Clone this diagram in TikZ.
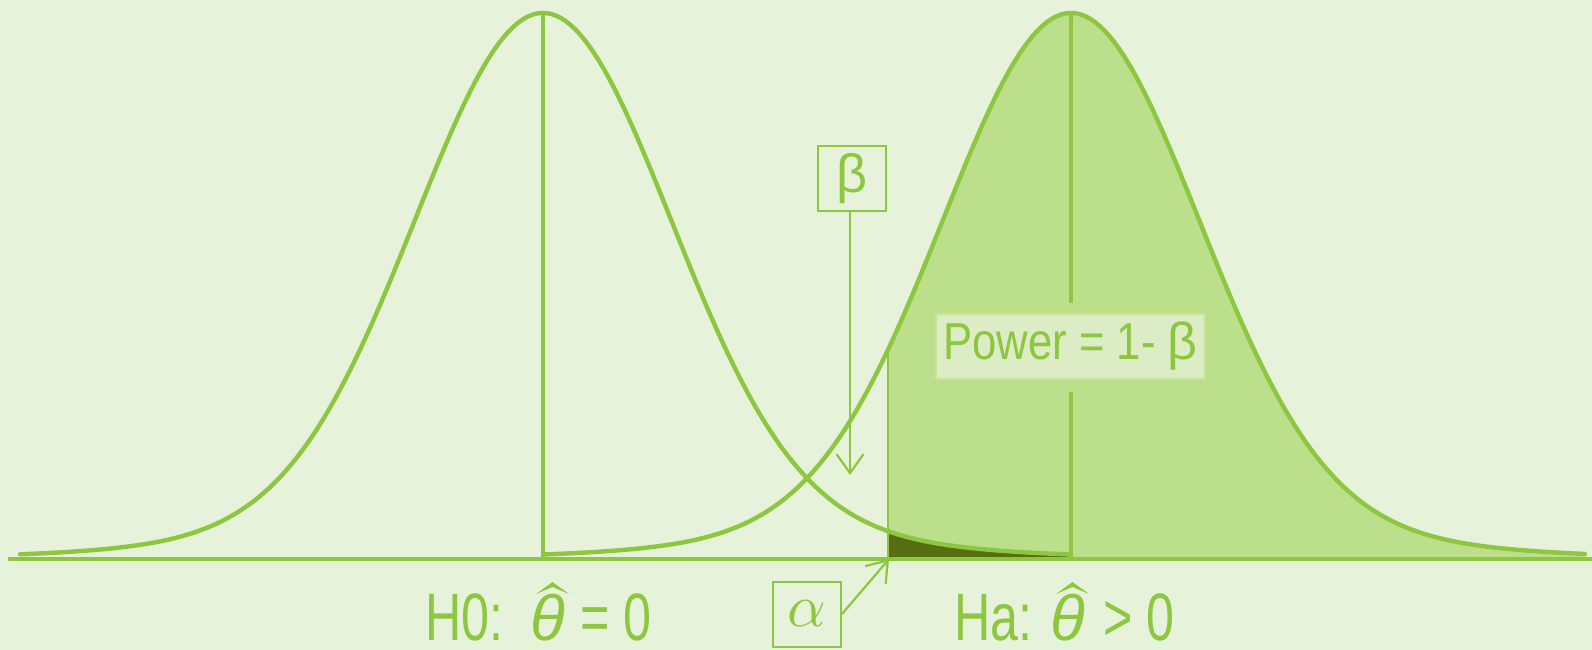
\documentclass[tikz,border=0pt]{standalone}
\usepackage{graphicx}
\usepackage{fontspec}
\newfontfamily\cond[FakeStretch=0.75]{Liberation Sans}
\newfontfamily\condp[FakeStretch=0.84]{Liberation Sans}
\newfontfamily\grk{Liberation Sans}
\usetikzlibrary{arrows.meta,calc}
\definecolor{bg}{HTML}{E6F3DA}
\definecolor{grn}{HTML}{8DC63F}
\definecolor{pfill}{HTML}{BBDF8B}
\definecolor{boxfill}{HTML}{DCECC4}
\definecolor{boxline}{HTML}{C6E39C}
\definecolor{darkg}{HTML}{566D12}
\begin{document}
\begin{tikzpicture}[x=1pt,y=-1pt,
  declare function={
    hl(\t)=559-546*(0.93*exp(-0.5*((\t-543)/127)^2)+0.07*exp(-0.5*((\t-543)/254)^2));
    hr(\t)=559-546*(0.93*exp(-0.5*((\t-1071)/127)^2)+0.07*exp(-0.5*((\t-1071)/254)^2));
  },
  curve/.style={draw=grn,line width=4.4pt,line join=round,line cap=round},
  vline/.style={draw=grn,line width=3.5pt},
  lbox/.style={draw=grn,line width=2pt,inner sep=0pt,minimum width=68pt,minimum height=65pt,text=grn},
  pointer/.style={draw=grn,line width=2.2pt,-{Straight Barb[length=19pt,width=27pt,line width=2.2pt]}},
  lbl/.style={text=grn,inner sep=0pt,text depth=0pt,font=\cond\fontsize{67}{67}\selectfont},
  hatfill/.style={fill=grn}]
\fill[bg] (0,0) rectangle (1592,650);
\useasboundingbox (0,0) rectangle (1592,650);
% key coordinates
\coordinate (peakL) at (543,13);
\coordinate (baseL) at (543,559);
\coordinate (peakR) at (1071,13);
\coordinate (baseR) at (1071,559);
\coordinate (axL) at (8,559);
\coordinate (axR) at (1592,559);
\coordinate (critB) at (888,559);
\coordinate (critT) at (888,{hr(888)});
% power area
\fill[pfill] (critB) -- plot[domain=888:1585,samples=160] (\x,{hr(\x)}) -- (1585,559) -- cycle;
% alpha area
\fill[darkg] (critB) -- plot[domain=888:1068,samples=60] (\x,{hl(\x)}) -- (1068,559) -- cycle;
\draw[grn,line width=2pt] (critB) -- (critT);
% curves
\draw[curve] plot[domain=20:1068,samples=220] (\x,{hl(\x)});
\draw[curve] plot[domain=543:1585,samples=220] (\x,{hr(\x)});
% power box
\node[draw=boxline,fill=boxfill,line width=2.5pt,minimum width=269pt,minimum height=65pt,inner sep=0pt,text=grn] (power) at (1070.5,346.5)
  {\condp\fontsize{52}{52}\selectfont Power = 1- {\grk β}};
% vertical lines
\draw[vline] (peakL) -- (baseL);
\draw[vline] (peakR) -- ([yshift=10pt]power.north -| peakR);
\draw[vline] ([yshift=-12pt]power.south -| peakR) -- (baseR);
% axis
\draw[grn,line width=3.5pt] (axL) -- (axR);
% beta
\node[lbox] (beta) at (852,178.5) {\grk\fontsize{54}{54}\selectfont β};
\coordinate (betatip) at (850,475);
\draw[pointer] (beta.south -| betatip) -- (betatip);
% alpha
\node[lbox] (alpha) at (807,614) {\scalebox{6}{$\alpha$}};
\coordinate (alphatip) at (889,559);
\draw[pointer] (alpha.east) -- (alphatip);
% hypotheses
\node[lbl,anchor=base west] (h0) at (425,640) {H0:};
\node[lbl,anchor=base] (th0) at (548,640) {\grk\fontsize{64}{64}\selectfont\itshape θ};
\node[lbl,anchor=base west] (eq0) at (580,640) {= 0};
\fill[hatfill] ($(th0.base)+(-12,-46)$) -- ($(th0.base)+(4.5,-58)$) -- ($(th0.base)+(21,-46)$)
  -- ($(th0.base)+(4.5,-53)$) -- cycle;
\node[lbl,anchor=base west] (ha) at (954,640) {Ha:};
\node[lbl,anchor=base] (tha) at (1068,640) {\grk\fontsize{64}{64}\selectfont\itshape θ};
\node[lbl,anchor=base west] (gt0) at (1103,640) {> 0};
\fill[hatfill] ($(tha.base)+(-12,-46)$) -- ($(tha.base)+(4.5,-58)$) -- ($(tha.base)+(21,-46)$)
  -- ($(tha.base)+(4.5,-53)$) -- cycle;
\end{tikzpicture}
\end{document}
